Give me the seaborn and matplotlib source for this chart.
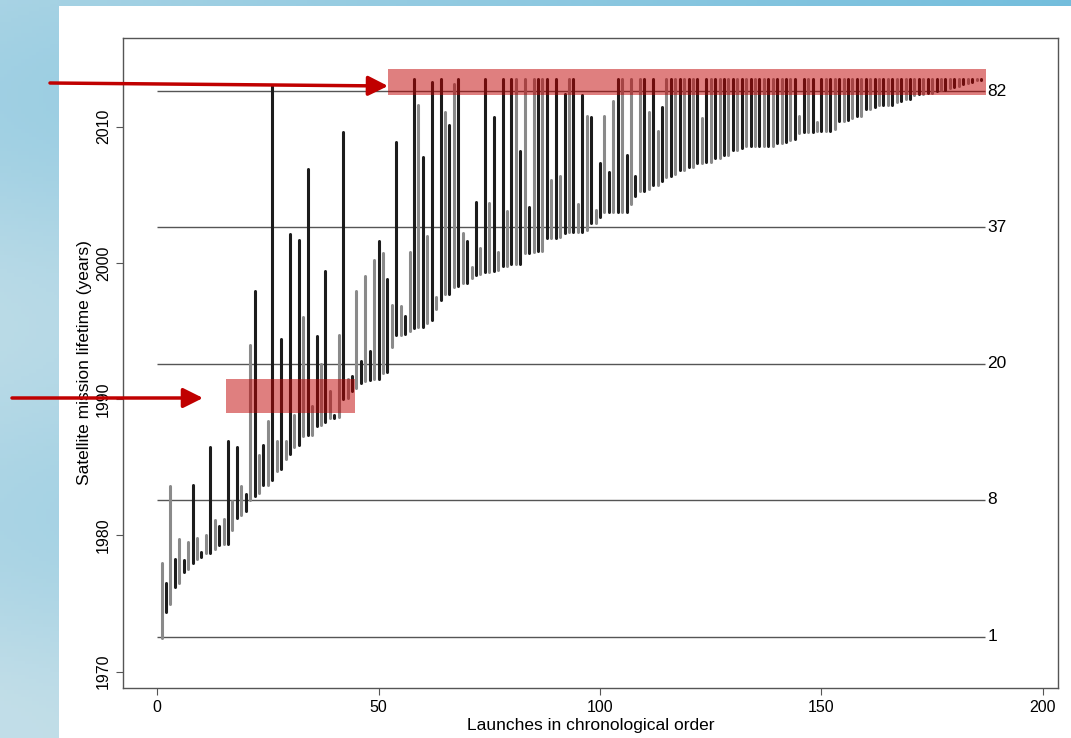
import numpy as np
import pandas as pd
import matplotlib
matplotlib.use("Agg")
import matplotlib.pyplot as plt
from matplotlib.patches import Rectangle
import seaborn as sns

# launch year and end-of-mission year, one entry per launch in chronological order
launch_start = [
    1972.5, 1974.4, 1975.0, 1976.2, 1976.5, 1977.3, 1977.5, 1978.0, 1978.3, 1978.4,
    1978.7, 1978.7, 1979.0, 1979.3, 1979.4, 1979.4, 1980.4, 1981.3, 1981.5, 1981.8,
    1982.6, 1982.9, 1983.1, 1983.7, 1983.7, 1984.1, 1984.7, 1984.9, 1985.6, 1986.0,
    1986.5, 1986.6, 1987.3, 1987.4, 1987.4, 1988.0, 1988.1, 1988.3, 1988.6, 1988.6,
    1988.7, 1990.0, 1990.1, 1990.6, 1990.8, 1991.2, 1991.3, 1991.4, 1991.5, 1991.5,
    1991.9, 1992.0, 1993.8, 1994.7, 1994.7, 1994.8, 1995.0, 1995.2, 1995.3, 1995.3,
    1995.6, 1995.8, 1996.6, 1997.3, 1997.7, 1997.7, 1998.2, 1998.3, 1998.5, 1998.5,
    1998.9, 1999.1, 1999.2, 1999.3, 1999.3, 1999.4, 1999.5, 1999.8, 1999.8, 1999.9,
    1999.9, 1999.9, 2000.7, 2000.7, 2000.8, 2000.9, 2000.9, 2001.8, 2001.8, 2001.8,
    2001.9, 2002.2, 2002.3, 2002.3, 2002.3, 2002.3, 2002.4, 2002.9, 2002.9, 2003.4,
    2003.7, 2003.7, 2003.7, 2003.7, 2003.7, 2003.7, 2004.3, 2004.9, 2005.3, 2005.3,
    2005.4, 2005.7, 2005.7, 2006.0, 2006.3, 2006.4, 2006.5, 2006.8, 2006.8, 2007.0,
    2007.0, 2007.3, 2007.3, 2007.4, 2007.4, 2007.7, 2007.7, 2007.9, 2007.9, 2008.3,
    2008.3, 2008.4, 2008.6, 2008.6, 2008.6, 2008.6, 2008.6, 2008.6, 2008.6, 2008.8,
    2008.8, 2008.9, 2009.0, 2009.1, 2009.5, 2009.6, 2009.6, 2009.6, 2009.7, 2009.7,
    2009.7, 2009.7, 2009.8, 2010.4, 2010.4, 2010.5, 2010.6, 2010.8, 2010.8, 2011.3,
    2011.3, 2011.4, 2011.6, 2011.6, 2011.6, 2011.6, 2011.8, 2011.9, 2012.0, 2012.0,
    2012.3, 2012.4, 2012.4, 2012.5, 2012.5, 2012.6, 2012.7, 2012.7, 2012.8, 2012.9,
    2013.0, 2013.1, 2013.2, 2013.3, 2013.4, 2013.45,
]
launch_end = [
    1978.0, 1976.5, 1983.6, 1978.3, 1979.7, 1978.2, 1979.5, 1983.7, 1979.8, 1978.8,
    1980.0, 1986.5, 1981.1, 1980.7, 1981.2, 1986.9, 1982.5, 1986.5, 1983.6, 1983.0,
    1994.0, 1997.9, 1985.9, 1986.6, 1988.4, 2013.0, 1986.9, 1994.4, 1986.9, 2002.1,
    1988.8, 2001.7, 1996.0, 2006.9, 1989.5, 1994.6, 1992.6, 1999.4, 1990.6, 1988.8,
    1994.7, 2009.6, 1991.5, 1991.7, 1997.9, 1992.8, 1999.0, 1993.5, 2000.2, 2001.6,
    2000.7, 1998.8, 1996.9, 2008.9, 1996.8, 1996.1, 2000.8, 2013.5, 2011.6, 2007.8,
    2002.0, 2013.3, 1997.5, 2013.5, 2011.1, 2010.1, 2013.1, 2013.5, 2002.2, 2001.6,
    1999.7, 2004.5, 2001.1, 2013.5, 2004.4, 2010.7, 2000.8, 2013.5, 2003.8, 2013.5,
    2013.5, 2008.2, 2013.5, 2004.1, 2013.5, 2013.5, 2013.5, 2013.5, 2006.1, 2013.5,
    2006.4, 2012.4, 2013.5, 2013.5, 2004.3, 2012.3, 2010.8, 2010.7, 2003.9, 2007.3,
    2010.8, 2006.7, 2011.9, 2013.5, 2013.5, 2007.9, 2013.5, 2006.4, 2013.5, 2013.5,
    2011.1, 2013.5, 2009.7, 2011.4, 2013.5, 2013.5, 2013.5, 2013.5, 2013.5, 2013.5,
    2013.5, 2013.5, 2010.6, 2013.5, 2013.5, 2013.5, 2013.5, 2013.5, 2013.5, 2013.5,
    2013.5, 2013.5, 2013.5, 2013.5, 2013.5, 2013.5, 2013.5, 2013.5, 2013.5, 2013.5,
    2013.5, 2013.5, 2013.5, 2013.5, 2010.8, 2013.5, 2013.5, 2013.5, 2010.3, 2013.5,
    2013.5, 2013.5, 2013.5, 2013.5, 2013.5, 2013.5, 2013.5, 2013.5, 2013.5, 2013.5,
    2013.5, 2013.5, 2013.5, 2013.5, 2013.5, 2013.5, 2013.5, 2013.5, 2013.5, 2013.5,
    2013.5, 2013.5, 2013.5, 2013.5, 2013.5, 2013.5, 2013.5, 2013.5, 2013.5, 2013.5,
    2013.5, 2013.5, 2013.5, 2013.5, 2013.5, 2013.5,
]

# reference lines (decades) and the count printed at their right end
ref_years = [1972.55, 1982.6, 1992.6, 2002.6, 2012.6]
ref_counts = ["1", "8", "20", "37", "82"]

x_ticks = [0, 50, 100, 150, 200]
y_ticks = [1970, 1980, 1990, 2000, 2010]

sns.set_style("ticks")
plt.rcParams["font.family"] = ["Liberation Sans", "DejaVu Sans"]

launch = np.arange(1, len(launch_start) + 1)
shade = np.where(launch % 2 == 1, "gray", "black")
df = pd.concat([
    pd.DataFrame({"launch": launch, "year": launch_start, "shade": shade}),
    pd.DataFrame({"launch": launch, "year": launch_end, "shade": shade}),
])

W, H = 1071, 738
fig = plt.figure(figsize=(W / 100, H / 100), dpi=100)

# slide background: bluish texture behind a white panel
bg = fig.add_axes([0, 0, 1, 1], zorder=-10)
gy, gx = np.mgrid[0:1:200j, 0:1:300j]
light = np.array([0.76, 0.87, 0.91])
deep = np.array([0.42, 0.73, 0.86])
t = np.clip(0.3 + 0.6 * gx - 0.2 * gy + 0.12 * np.sin(11 * gy), 0, 1)[..., None]
bg.imshow(light * (1 - t) + deep * t, extent=[0, 1, 0, 1], aspect="auto")
bg.add_patch(Rectangle((59 / W, 0), 1, (H - 6) / H, color="white", lw=0))
bg.set_xlim(0, 1)
bg.set_ylim(0, 1)
bg.axis("off")

ax = fig.add_axes([123 / W, 1 - 688 / H, (1058 - 123) / W, (688 - 38) / H])
ax.set_facecolor("white")

ax.hlines(ref_years, 0, 187, color="#555555", lw=1.0, zorder=1)
for yv, lab in zip(ref_years, ref_counts):
    ax.text(187.4, yv, lab, ha="left", va="center", fontsize=12.5, color="black")

sns.lineplot(data=df, x="launch", y="year", units="launch", estimator=None,
             hue="shade", palette={"gray": "#8a8a8a", "black": "#1c1c1c"},
             sort=False, legend=False, lw=2.2, ax=ax, zorder=2)

# highlighted regions
ax.add_patch(Rectangle((52.2, 2012.35), 134.9, 1.9, facecolor="#c00000",
                       alpha=0.5, lw=0, zorder=5))
ax.add_patch(Rectangle((15.6, 1988.95), 29.1, 2.5, facecolor="#c00000",
                       alpha=0.5, lw=0, zorder=5))

arrow = dict(arrowstyle="-|>,head_length=0.6,head_width=0.3", color="#c00000",
             lw=2.5, shrinkA=0, shrinkB=0, mutation_scale=20)
ax.annotate("", xy=(388, H - 86), xycoords="figure pixels",
            xytext=(50, H - 83), textcoords="figure pixels",
            arrowprops=arrow, annotation_clip=False)
ax.annotate("", xy=(203, H - 398), xycoords="figure pixels",
            xytext=(12, H - 398), textcoords="figure pixels",
            arrowprops=arrow, annotation_clip=False)

ax.set_xlim(-7.7, 203.4)
ax.set_ylim(1968.8, 2016.5)
ax.set_xticks(x_ticks)
ax.set_yticks(y_ticks)
ax.tick_params(direction="out", length=5, width=0.8, color="#555555",
               labelsize=11.5, labelcolor="black")
ax.tick_params(axis="y", labelrotation=90)
for lab in ax.get_yticklabels():
    lab.set_va("center")
for sp in ax.spines.values():
    sp.set_visible(True)
    sp.set_color("#555555")
    sp.set_linewidth(1.0)

ax.set_xlabel("Launches in chronological order", fontsize=12.5, labelpad=2,
              color="black")
ax.set_ylabel("Satellite mission lifetime (years)", fontsize=12.5, labelpad=3,
              color="black")

fig.savefig("out.png", dpi=100)
